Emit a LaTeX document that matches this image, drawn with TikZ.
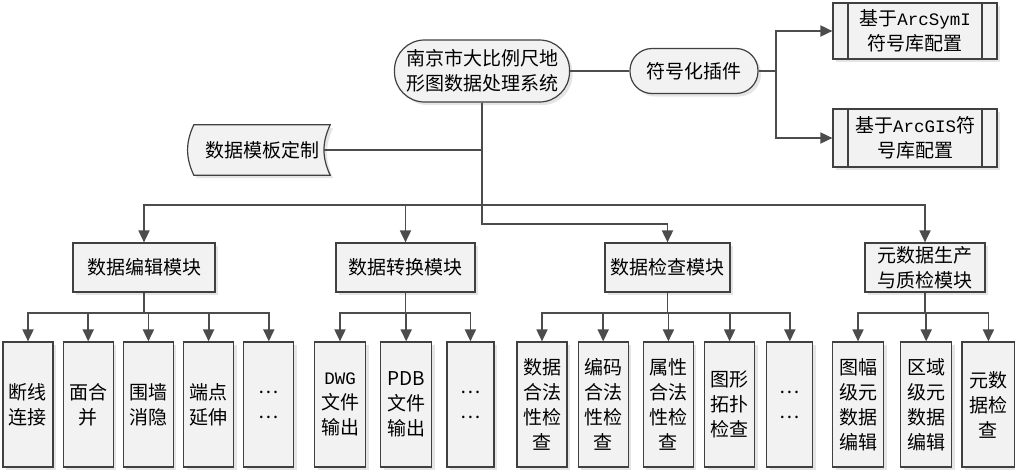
\documentclass[tikz,border=0pt]{standalone}
\usepackage{fontspec}
\setmainfont{Noto Sans CJK SC}
\newfontfamily\latfont{Liberation Mono}
\newcommand{\arclat}[1]{{\latfont\fontsize{17.5}{25}\selectfont #1}}
\usetikzlibrary{arrows.meta, positioning, shadows, backgrounds}

\begin{document}
\begin{tikzpicture}[x=1pt, y=-1pt, >={Triangle[length=12pt,width=11pt]}, font=\fontsize{19}{25}\selectfont,
    box/.style={draw=black!75, line width=1.2pt, fill=black!5, rectangle, align=center, inner sep=2pt,
        drop shadow={shadow xshift=3pt, shadow yshift=-3pt, fill=black!20}},
    modbox/.style={box, minimum height=49pt},
    leafbox/.style={box, minimum width=50pt, minimum height=125pt, inner sep=0pt},
    pillbox/.style={box, rounded corners=#1},
    procbox/.style={box, minimum width=164pt, path picture={
        \draw[black!75, line width=1.2pt] ([xshift=15pt]path picture bounding box.north west) -- ([xshift=15pt]path picture bounding box.south west);
        \draw[black!75, line width=1.2pt] ([xshift=-15pt]path picture bounding box.north east) -- ([xshift=-15pt]path picture bounding box.south east);}},
    line/.style={draw=black!70, line width=1.8pt},
    arr/.style={line, ->}]
    \useasboundingbox (0,0) rectangle (1015,474);

    % top row
    \node [pillbox=30pt, minimum width=175pt, minimum height=62pt] (root) at (482,71) {南京市大比例尺地\\形图数据处理系统};
    \node [pillbox=22pt, minimum width=128pt, minimum height=45pt] (plug) at (694,71) {符号化插件};
    \node [procbox, minimum height=56pt] (sym1) at (915,31) {基于\arclat{ArcSymI}\\符号库配置};
    \node [procbox, minimum height=58pt] (sym2) at (915,138) {基于\arclat{ArcGIS}符\\号库配置};

    % template (stored data shape)
    \node [minimum width=136pt, minimum height=50pt, inner sep=0pt] (tmpl) at (262,150) {数据模板定制};
    \begin{scope}[on background layer]
        \draw [black!75, line width=1.2pt, fill=black!5, drop shadow={shadow xshift=3pt, shadow yshift=-3pt, fill=black!20}]
            (tmpl.north east) to[bend right=25] (tmpl.south east) -- (tmpl.south west)
            to[bend left=25] (tmpl.north west) -- cycle;
    \end{scope}

    % modules
    \node [modbox, minimum width=142pt] (edit) at (144,267.5) {数据编辑模块};
    \node [modbox, minimum width=139pt] (conv) at (405.5,267.5) {数据转换模块};
    \node [modbox, minimum width=125pt] (check) at (667.5,267.5) {数据检查模块};
    \node [modbox, minimum width=120pt] (meta) at (925,267.5) {元数据生产\\与质检模块};

    % leaves
    \node [leafbox] (e1) at (28,404.5) {断线\\连接};
    \node [leafbox, right=9pt of e1] (e2) {面合\\并};
    \node [leafbox, right=9pt of e2] (e3) {围墙\\消隐};
    \node [leafbox, right=9pt of e3] (e4) {端点\\延伸};
    \node [leafbox, right=9pt of e4] (e5) {…\\…};

    \node [leafbox, minimum width=51pt] (c1) at (340,404.5) {\arclat{DWG}\\文件\\输出};
    \node [leafbox, minimum width=51pt, right=14pt of c1] (c2) {PDB\\文件\\输出};
    \node [leafbox, minimum width=47pt, right=14pt of c2] (c3) {…\\…};

    \node [leafbox] (k1) at (542,404.5) {数据\\合法\\性检\\查};
    \node [leafbox, right=10pt of k1] (k2) {编码\\合法\\性检\\查};
    \node [leafbox, right=14pt of k2] (k3) {属性\\合法\\性检\\查};
    \node [leafbox, right=10pt of k3] (k4) {图形\\拓扑\\检查};
    \node [leafbox, minimum width=46pt, right=11pt of k4] (k5) {…\\…};

    \node [leafbox, minimum width=51pt] (m1) at (858,404.5) {图幅\\级元\\数据\\编辑};
    \node [leafbox, minimum width=51pt, right=16pt of m1] (m2) {区域\\级元\\数据\\编辑};
    \node [leafbox, minimum width=53pt, right=9pt of m2] (m3) {元数\\据检\\查};

    % connectors
    \draw [line] (root) -- (plug);
    \draw [arr] (plug.east) -- ++(17,0) |- (sym1.west);
    \draw [arr] (plug.east) -- ++(17,0) |- (sym2.west);
    \draw [line] ([xshift=-6pt]tmpl.east) -- (tmpl.east -| root.south);

    \draw [arr] (root.south) -- ++(0,102) -| (edit.north);
    \draw [arr] (root.south) -- ++(0,102) -| (conv.north);
    \draw [arr] (root.south) -- ++(0,102) -| (meta.north);
    \draw [arr] (root.south) -- ++(0,121) -| (check.north);

    \foreach \leaf in {e1,e2,e3,e4,e5}
        \draw [arr] (edit.south) -- ++(0,20) -| (\leaf.north);
    \foreach \leaf in {c1,c2,c3}
        \draw [arr] (conv.south) -- ++(0,20) -| (\leaf.north);
    \foreach \leaf in {k1,k2,k3,k4,k5}
        \draw [arr] (check.south) -- ++(0,20) -| (\leaf.north);
    \foreach \leaf in {m1,m2,m3}
        \draw [arr] (meta.south) -- ++(0,20) -| (\leaf.north);
\end{tikzpicture}
\end{document}
